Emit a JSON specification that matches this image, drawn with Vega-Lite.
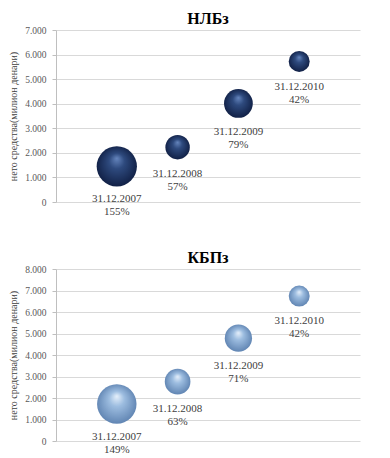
{
  "$schema": "https://vega.github.io/schema/vega-lite/v6.json",
  "background": "white",
  "padding": {"left": 8, "top": 11, "right": 2, "bottom": 2},
  "spacing": 32,
  "datasets": {
    "nlb": [
      {"x": 1, "net": 1450, "date": "31.12.2007", "pct": 1.55},
      {"x": 2, "net": 2230, "date": "31.12.2008", "pct": 0.57},
      {"x": 3, "net": 4010, "date": "31.12.2009", "pct": 0.79},
      {"x": 4, "net": 5720, "date": "31.12.2010", "pct": 0.42}
    ],
    "kbp": [
      {"x": 1, "net": 1720, "date": "31.12.2007", "pct": 1.49},
      {"x": 2, "net": 2760, "date": "31.12.2008", "pct": 0.63},
      {"x": 3, "net": 4780, "date": "31.12.2009", "pct": 0.71},
      {"x": 4, "net": 6740, "date": "31.12.2010", "pct": 0.42}
    ]
  },
  "config": {
    "font": "Liberation Serif",
    "view": {"stroke": null},
    "title": {"font": "Liberation Serif", "fontSize": 16, "fontWeight": "bold", "color": "#000000", "offset": -2},
    "axisY": {
      "labelExpr": "replace(format(datum.value, ','), ',', '.')",
      "titleFont": "Liberation Serif",
      "titleFontSize": 10,
      "titleFontWeight": "normal",
      "titleColor": "#404040",
      "labelFont": "Liberation Serif",
      "labelColor": "#595959",
      "labelFontSize": 9.5,
      "gridColor": "#d9d9d9",
      "domainColor": "#bfbfbf",
      "tickColor": "#bfbfbf",
      "tickSize": 4,
      "labelPadding": 6,
      "titlePadding": 6
    }
  },
  "vconcat": [
    {
      "title": "НЛБз",
      "data": {"name": "nlb"},
      "width": 304,
      "height": 172,
      "encoding": {
        "x": {"field": "x", "type": "quantitative", "scale": {"domain": [0, 5]}, "axis": null},
        "y": {"field": "net", "type": "quantitative", "scale": {"domain": [0, 7000], "nice": false},
          "axis": {"title": "нето средства(милион денари)", "values": [0, 1000, 2000, 3000, 4000, 5000, 6000, 7000]}}
      },
      "layer": [
        {
          "mark": {"type": "circle", "opacity": 1,
            "fill": {"gradient": "radial", "x1": 0.5, "y1": 0.3, "r1": 0, "x2": 0.5, "y2": 0.5, "r2": 0.55,
              "stops": [{"offset": 0, "color": "#6585bd"}, {"offset": 0.35, "color": "#2e4a7e"}, {"offset": 1, "color": "#0e1c40"}]}},
          "encoding": {"size": {"field": "pct", "type": "quantitative", "scale": {"domain": [0, 1.55], "range": [0, 1620]}, "legend": null}}
        },
        {
          "mark": {"type": "text", "baseline": "middle", "fontSize": 11, "color": "#404040", "dy": {"expr": "17 + 12.77*sqrt(datum.pct)"}},
          "encoding": {"text": {"field": "date"}}
        },
        {
          "mark": {"type": "text", "baseline": "middle", "fontSize": 11, "color": "#404040", "dy": {"expr": "30 + 12.77*sqrt(datum.pct)"}},
          "encoding": {"text": {"field": "pct", "type": "quantitative", "format": ".0%"}}
        }
      ]
    },
    {
      "title": "КБПз",
      "data": {"name": "kbp"},
      "width": 304,
      "height": 172,
      "encoding": {
        "x": {"field": "x", "type": "quantitative", "scale": {"domain": [0, 5]}, "axis": null},
        "y": {"field": "net", "type": "quantitative", "scale": {"domain": [0, 8000], "nice": false},
          "axis": {"title": "нето средства(милион денари)", "values": [0, 1000, 2000, 3000, 4000, 5000, 6000, 7000, 8000]}}
      },
      "layer": [
        {
          "mark": {"type": "circle", "opacity": 1,
            "fill": {"gradient": "radial", "x1": 0.5, "y1": 0.3, "r1": 0, "x2": 0.5, "y2": 0.5, "r2": 0.55,
              "stops": [{"offset": 0, "color": "#e6f0fb"}, {"offset": 0.35, "color": "#9dbde0"}, {"offset": 1, "color": "#5a7fae"}]}},
          "encoding": {"size": {"field": "pct", "type": "quantitative", "scale": {"domain": [0, 1.55], "range": [0, 1620]}, "legend": null}}
        },
        {
          "mark": {"type": "text", "baseline": "middle", "fontSize": 11, "color": "#404040", "dy": {"expr": "17 + 12.77*sqrt(datum.pct)"}},
          "encoding": {"text": {"field": "date"}}
        },
        {
          "mark": {"type": "text", "baseline": "middle", "fontSize": 11, "color": "#404040", "dy": {"expr": "30 + 12.77*sqrt(datum.pct)"}},
          "encoding": {"text": {"field": "pct", "type": "quantitative", "format": ".0%"}}
        }
      ]
    }
  ]
}
